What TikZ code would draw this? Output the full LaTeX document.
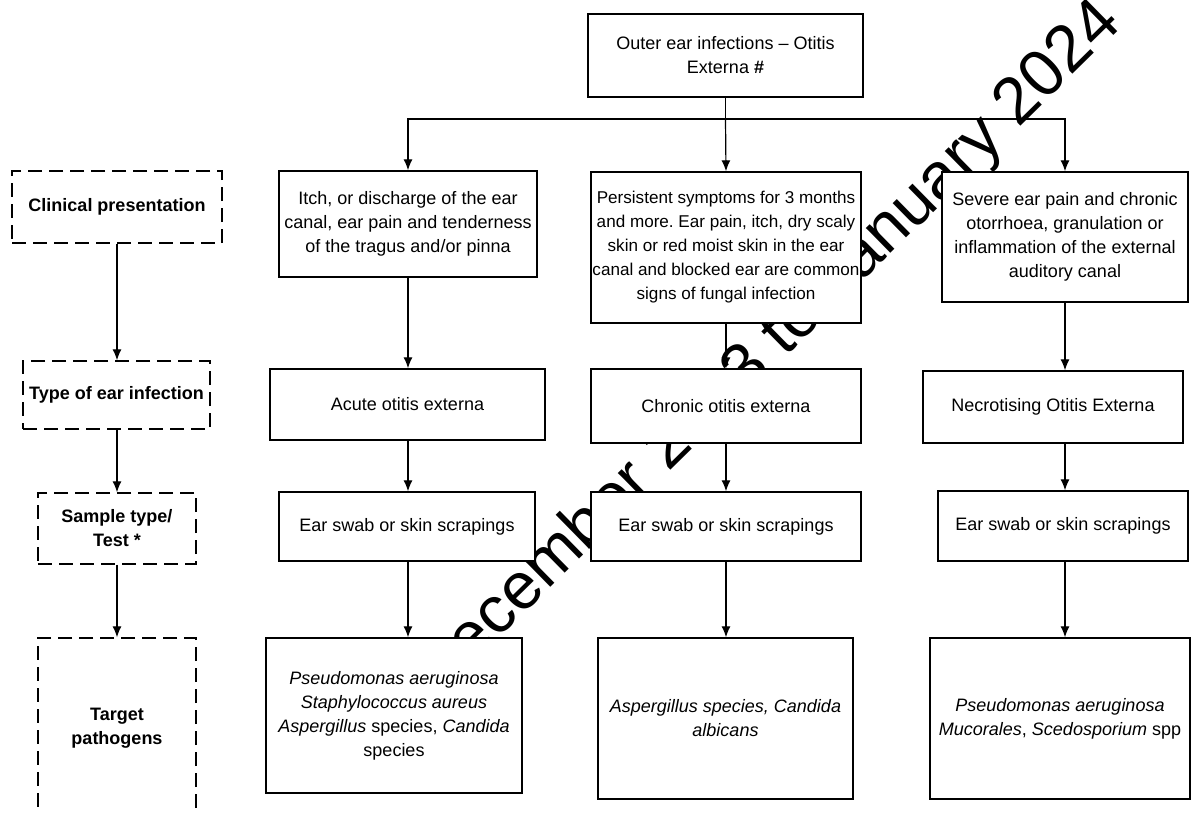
\documentclass[tikz,border=0pt]{standalone}
\usepackage{fontspec}
\setmainfont{Liberation Sans}
\frenchspacing
\usetikzlibrary{arrows.meta}

\begin{document}
\begin{tikzpicture}[x=0.5pt,y=-0.5pt,
    box/.style={draw,line width=0.7pt,fill=white,align=center,inner sep=2pt,
        font=\fontsize{9}{12}\selectfont},
    side box/.style={box,dash pattern=on 7pt off 3.5pt,
        font=\fontsize{9}{12}\selectfont\bfseries},
    boxsize/.style 2 args={minimum width=#1*0.5pt,minimum height=#2*0.5pt},
    arr/.style={-{Latex[length=5.5pt,width=4.5pt]},line width=0.6pt},
    watermark/.style={rotate=44.5,font=\fontsize{33}{33}\selectfont}]

    \useasboundingbox (0,0) rectangle (1195,814);

    \node[watermark] (wm) at (736,382) {ed December 2023 to January 2024};

    % row labels
    \node[side box, boxsize={210}{72}] (clin) at (117,207) {Clinical presentation};
    \node[side box, boxsize={187}{68}] (type) at (116.5,395) {Type of ear infection};
    \node[side box, boxsize={158}{71}] (sample) at (117,528.5) {Sample type/\\Test *};
    \node[side box, boxsize={158}{180}] (target) at (117,728) {Target\\pathogens};

    % flow
    \node[box, boxsize={275}{83}] (outer) at (725.5,55.5) {Outer ear infections -- Otitis\\Externa \textbf{\#}};

    \node[box, boxsize={258}{106}] (itch) at (408,224)
        {Itch, or discharge of the ear\\canal, ear pain and tenderness\\of the tragus and/or pinna};
    \node[box, boxsize={270}{151}, inner xsep=0pt, font=\fontsize{8.55}{12}\selectfont] (persist) at (726,247.5)
        {Persistent symptoms for 3 months\\and more. Ear pain, itch, dry scaly\\skin or red moist skin in the ear\\canal and blocked ear are common\\signs of fungal infection};
    \node[box, boxsize={246}{130}] (severe) at (1065,237)
        {Severe ear pain and chronic\\otorrhoea, granulation or\\inflammation of the external\\auditory canal};

    \node[box, boxsize={275}{71}] (acute) at (407.5,404.5) {Acute otitis externa};
    \node[box, boxsize={270}{74}] (chronic) at (726,406) {Chronic otitis externa};
    \node[box, boxsize={260}{72}] (necro) at (1053,407) {Necrotising Otitis Externa};

    \node[box, boxsize={256}{69}] (swabA) at (407,526.5) {Ear swab or skin scrapings};
    \node[box, boxsize={270}{69}] (swabB) at (726,526.5) {Ear swab or skin scrapings};
    \node[box, boxsize={250}{70}] (swabC) at (1063,526) {Ear swab or skin scrapings};

    \node[box, boxsize={256}{155}] (pathA) at (394,715.5)
        {\textit{Pseudomonas aeruginosa}\\\textit{Staphylococcus aureus}\\\textit{Aspergillus} species, \textit{Candida}\\species};
    \node[box, boxsize={255}{161}] (pathB) at (725.5,718.5)
        {\textit{Aspergillus species, Candida}\\\textit{albicans}};
    \node[box, boxsize={260}{161}] (pathC) at (1060,718.5)
        {\textit{Pseudomonas aeruginosa}\\\textit{Mucorales}, \textit{Scedosporium} spp};

    \coordinate (split) at (outer.south |- 0,119);

    \draw[line width=0.6pt] (outer.south) -- (split);
    \draw[arr] (split) -| (itch.north);
    \draw[arr] (split) -| (severe.north);
    \path[arr]
    (split) edge (persist.north)
    (clin) edge (clin |- type.north)
    (type.south -| clin) edge (clin |- sample.north)
    (sample.south -| clin) edge (clin |- target.north)
    (itch) edge (itch |- acute.north)
    (acute.south -| itch) edge (itch |- swabA.north)
    (swabA.south -| itch) edge (itch |- pathA.north)
    (persist) edge (persist |- chronic.north)
    (chronic.south -| persist) edge (persist |- swabB.north)
    (swabB.south -| persist) edge (persist |- pathB.north)
    (severe) edge (severe |- necro.north)
    (necro.south -| severe) edge (severe |- swabC.north)
    (swabC.south -| severe) edge (severe |- pathC.north);
\end{tikzpicture}
\end{document}
